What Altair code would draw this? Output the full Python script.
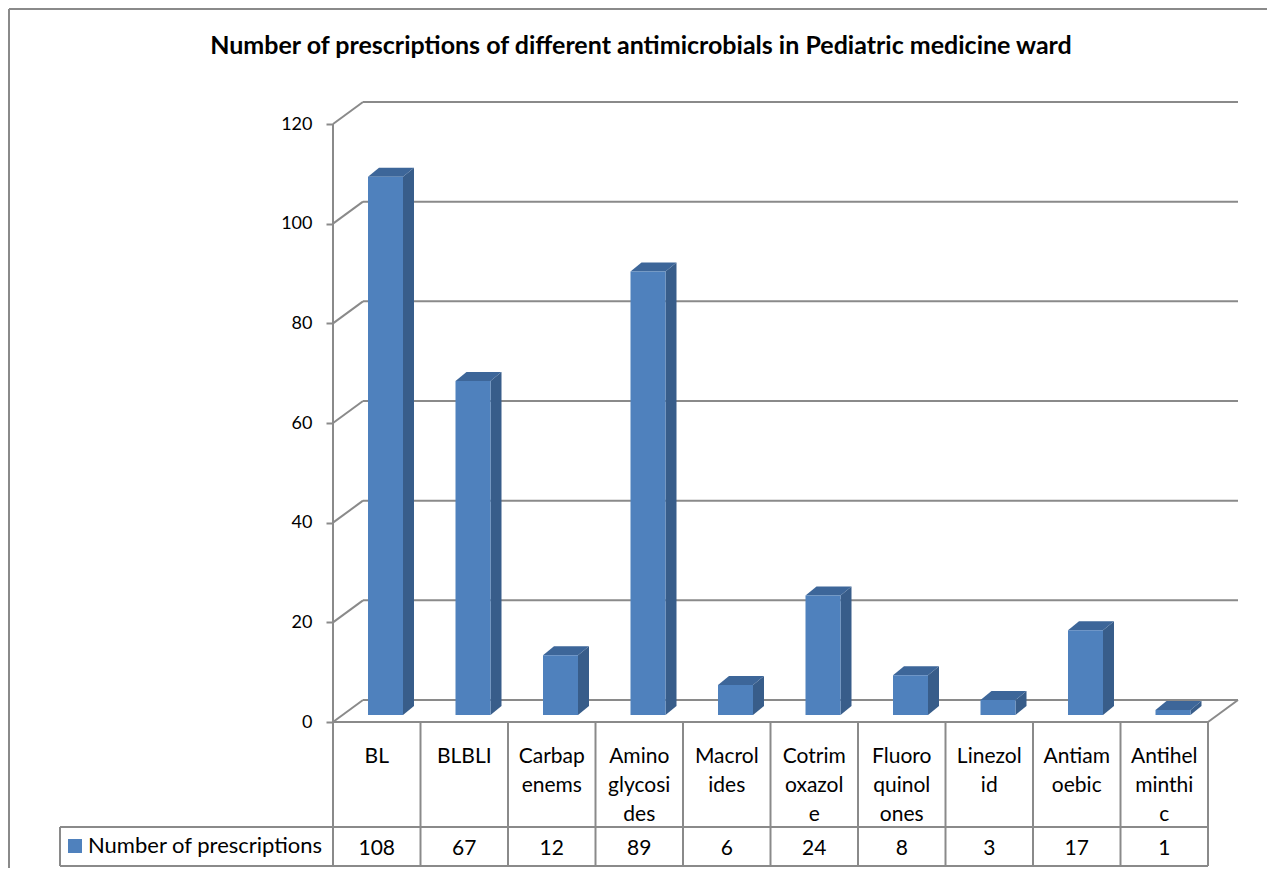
import altair as alt
import pandas as pd

# ---------------- data ----------------
categories = ["BL", "BLBLI", "Carbapenems", "Aminoglycosides", "Macrolides",
              "Cotrimoxazole", "Fluoroquinolones", "Linezolid", "Antiamoebic",
              "Antihelminthic"]
label_lines = [["BL"], ["BLBLI"], ["Carbap", "enems"], ["Amino", "glycosi", "des"],
               ["Macrol", "ides"], ["Cotrim", "oxazol", "e"], ["Fluoro", "quinol", "ones"],
               ["Linezol", "id"], ["Antiam", "oebic"], ["Antihel", "minthi", "c"]]
values = [108, 67, 12, 89, 6, 24, 8, 3, 17, 1]
y_ticks = [0, 20, 40, 60, 80, 100, 120]
series_name = "Number of prescriptions"
title_text = "Number of prescriptions of different antimicrobials in Pediatric medicine ward"

# ---------------- layout / style (page pixels) ----------------
W, H = 1259, 860
MARGIN = 8
X0 = 333            # page x where the category axis starts
CAT_W = 87.5        # pixels per category column
Y0 = 722            # page y of value 0
PX_PER_UNIT = (722 - 124) / 120.0
FLOOR_DX, FLOOR_DY = 30, 22
BAR_DX, BAR_DY = 11, 9
BAR_L, BAR_R = 35, 70   # bar front face, px from column start
BAR_LIFT = 7
TABLE_MID = 827
TABLE_BOT = 866
LEGEND_LEFT = 60
FONT = "Lato"
GRAY = "#8a8a8a"
FRONT = "#4f81bd"
SIDE = "#385d8a"
TOP = "#3d6699"


def U(px):
    return (px - X0) / CAT_W


def V(py):
    return (Y0 - py) / PX_PER_UNIT


n = len(categories)
fdx, fdy = FLOOR_DX / CAT_W, FLOOR_DY / PX_PER_UNIT
bdx, bdy = BAR_DX / CAT_W, BAR_DY / PX_PER_UNIT
lift = BAR_LIFT / PX_PER_UNIT
bl, br = BAR_L / CAT_W, BAR_R / CAT_W

xscale = alt.Scale(domain=[U(MARGIN), U(MARGIN + W)], nice=False, zero=False)
yscale = alt.Scale(domain=[V(MARGIN + H), V(MARGIN)], nice=False, zero=False)
yaxis = alt.Axis(values=y_ticks, domain=False, grid=False, ticks=True, tickSize=7,
                 tickColor=GRAY, tickWidth=2, labelFont=FONT, labelFontSize=18,
                 labelColor="black", labelPadding=14, offset=-(X0 - MARGIN),
                 title=None, labelOverlap=False)


def X(f):
    return alt.X(f, type="quantitative", scale=xscale, axis=None)


def Y(f):
    return alt.Y(f, type="quantitative", scale=yscale, axis=yaxis, stack=None)


# ---------------- line work ----------------
rules = []
for v in y_ticks:
    rules.append(dict(x=fdx, x2=n + fdx, y=v + fdy, y2=v + fdy))   # back wall
    rules.append(dict(x=0, x2=fdx, y=v, y2=v + fdy))                 # side wall
rules.append(dict(x=n, x2=n + fdx, y=0, y2=fdy))                     # floor right edge
rules.append(dict(x=0, x2=0, y=y_ticks[-1], y2=V(TABLE_BOT)))        # value axis line
rules.append(dict(x=0, x2=n, y=0, y2=0))                             # table top
rules.append(dict(x=U(LEGEND_LEFT), x2=n, y=V(TABLE_MID), y2=V(TABLE_MID)))
rules.append(dict(x=U(LEGEND_LEFT), x2=n, y=V(TABLE_BOT), y2=V(TABLE_BOT)))
rules.append(dict(x=U(LEGEND_LEFT), x2=U(LEGEND_LEFT), y=V(TABLE_MID), y2=V(TABLE_BOT)))
for i in range(1, n + 1):
    rules.append(dict(x=i, x2=i, y=0, y2=V(TABLE_BOT)))
# chart frame (left and top)
rules.append(dict(x=U(MARGIN + 1), x2=U(MARGIN + 1), y=V(MARGIN + 1), y2=V(MARGIN + H)))
rules.append(dict(x=U(MARGIN + 1), x2=U(MARGIN + W), y=V(MARGIN + 1), y2=V(MARGIN + 1)))
rules_df = pd.DataFrame(rules)

rule_layer = alt.Chart(rules_df).mark_rule(color=GRAY, strokeWidth=2).encode(
    x=X("x"), x2="x2", y=Y("y"), y2="y2")

# ---------------- bars ----------------
front_df = pd.DataFrame({"cat": categories, "x": [i + bl for i in range(n)],
                         "x2": [i + br for i in range(n)],
                         "y": [lift] * n, "y2": [lift + v for v in values]})
front = alt.Chart(front_df).mark_rect(color=FRONT).encode(
    x=X("x"), x2="x2", y=Y("y"), y2="y2")

side_rows, top_rows = [], []
for i, v in enumerate(values):
    t = lift + v
    side_rows += [dict(bar=i, x=i + br, y=lift, y2=t),
                  dict(bar=i, x=i + br + bdx, y=lift + bdy, y2=t + bdy)]
    top_rows += [dict(bar=i, x=i + bl, y=t, y2=t),
                 dict(bar=i, x=i + bl + bdx, y=t, y2=t + bdy),
                 dict(bar=i, x=i + br, y=t, y2=t + bdy),
                 dict(bar=i, x=i + br + bdx, y=t + bdy, y2=t + bdy)]
side = alt.Chart(pd.DataFrame(side_rows)).mark_area(color=SIDE, opacity=1).encode(
    x=X("x"), y=Y("y"), y2="y2", detail="bar:N")
top = alt.Chart(pd.DataFrame(top_rows)).mark_area(color=TOP, opacity=1).encode(
    x=X("x"), y=Y("y"), y2="y2", detail="bar:N")

# ---------------- data table ----------------
lab_df = pd.DataFrame({"x": [i + 0.5 for i in range(n)], "y": [V(763)] * n,
                       "t": ["\n".join(l) for l in label_lines]})
cat_text = alt.Chart(lab_df).mark_text(font=FONT, fontSize=21, color="black",
                                       lineBreak="\n", lineHeight=29, align="center",
                                       baseline="alphabetic").encode(
    x=X("x"), y=Y("y"), text="t:N")

val_df = pd.DataFrame({"x": [i + 0.5 for i in range(n)], "y": [V(855)] * n,
                       "t": [str(v) for v in values]})
val_text = alt.Chart(val_df).mark_text(font=FONT, fontSize=21, color="black",
                                       align="center", baseline="alphabetic").encode(
    x=X("x"), y=Y("y"), text="t:N")

leg_sq = alt.Chart(pd.DataFrame({"x": [U(75)], "y": [V(846)]})).mark_square(
    size=196, color=FRONT, opacity=1, filled=True).encode(x=X("x"), y=Y("y"))
leg_text = alt.Chart(pd.DataFrame({"x": [U(88)], "y": [V(853)], "t": [series_name]})).mark_text(
    font=FONT, fontSize=22, color="black", align="left", baseline="alphabetic").encode(
    x=X("x"), y=Y("y"), text="t:N")

title = alt.Chart(pd.DataFrame({"x": [U(641)], "y": [V(54)], "t": [title_text]})).mark_text(
    font=FONT, fontSize=25, fontWeight="bold", color="black", align="center",
    baseline="alphabetic").encode(x=X("x"), y=Y("y"), text="t:N")

chart = alt.layer(rule_layer, side, top, front, cat_text, val_text, leg_sq, leg_text, title).properties(
    width=W, height=H, padding=0, autosize=alt.AutoSizeParams(type="none"),
    background="white"
).configure_view(stroke=None)

chart.save("out.html", embed_options={"renderer": "svg", "actions": False})
